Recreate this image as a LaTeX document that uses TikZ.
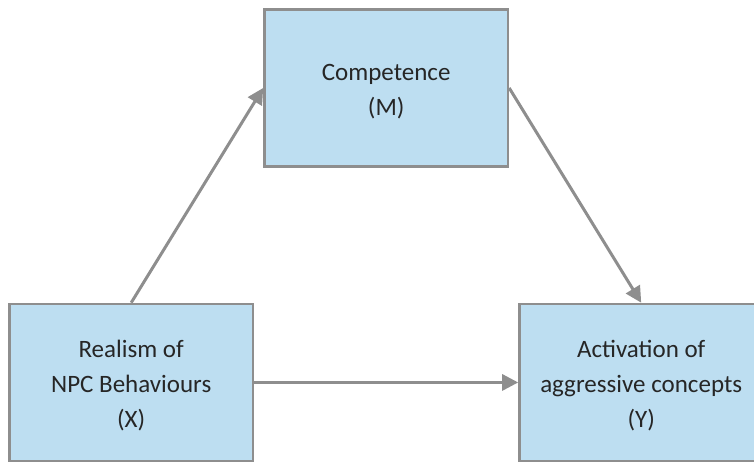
\documentclass[tikz,border=0pt]{standalone}
\usepackage{fontspec}
\setmainfont{Carlito}
\usetikzlibrary{arrows.meta}
\definecolor{boxblue}{RGB}{189,222,241}
\definecolor{linegray}{RGB}{142,142,142}
\newcommand{\vartext}[1]{\begin{tabular}{@{}c@{}}\rule{0pt}{31pt}#1\end{tabular}}

\begin{document}
\begin{tikzpicture}[
  every matrix/.style={ampersand replacement=\&,column sep=9pt,row sep=135pt,inner sep=0pt},
  block/.style={draw=linegray,line width=2.5pt,fill=boxblue,minimum width=243.5pt,minimum height=157pt,
    font=\fontsize{25}{35}\selectfont,text=black!85},
  to/.style={-{Triangle[length=16pt,width=16pt]},line width=3pt,draw=linegray}]
  \useasboundingbox (0,0) rectangle (754pt,-463pt);

  % Lay out the three variables with a matrix
  \matrix[anchor=north west] at (8pt,-8pt) {
    \& \node[block] (M) {\vartext{Competence\\(M)}}; \& \\
    \node[block] (X) {\vartext{Realism of\\NPC Behaviours\\(X)}};
      \& \& \node[block] (Y) {\vartext{Activation of\\aggressive concepts\\(Y)}}; \\
  };

  % Paths between the variables
  \draw[to] (X.north) -- (M.west);
  \draw[to] (M.east) -- (Y.north);
  \draw[to] (X.east) -- (Y.west);
\end{tikzpicture}
\end{document}
